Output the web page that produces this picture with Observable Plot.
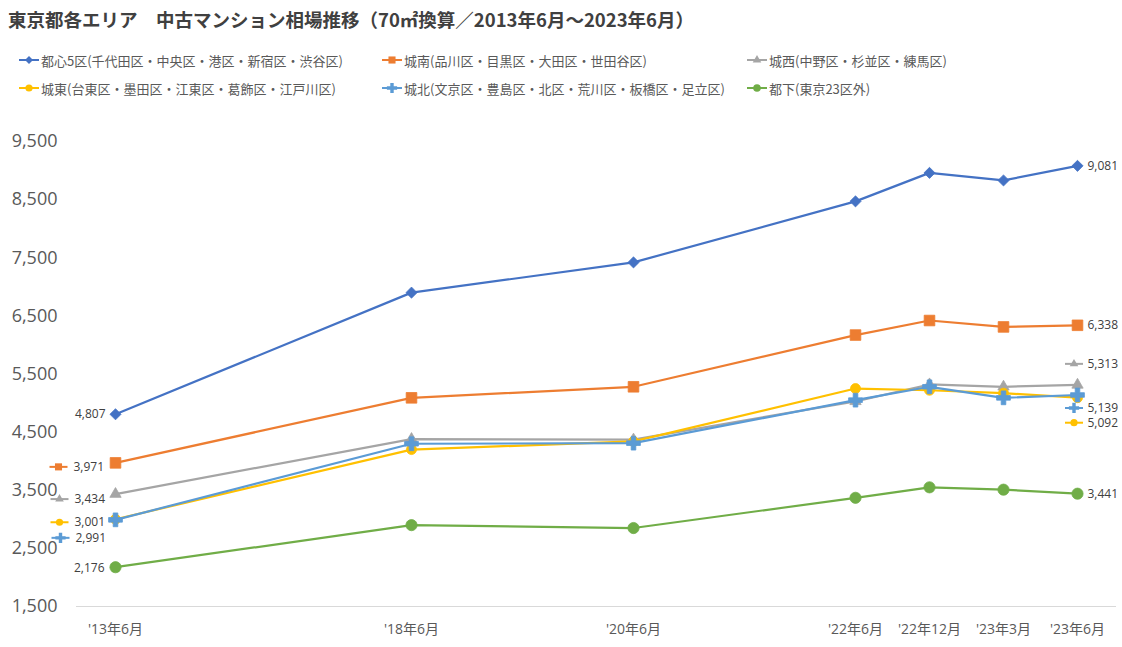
<!DOCTYPE html>
<html>
<head>
<meta charset="utf-8">
<script src="https://cdn.jsdelivr.net/npm/d3@7"></script>
<script src="https://cdn.jsdelivr.net/npm/@observablehq/plot@0.6"></script>
<style>
  body { margin: 0; background: #fff; font-family: "Noto Sans CJK JP", "Noto Sans", sans-serif; }
  #wrap { position: relative; width: 1122px; height: 647px; overflow: hidden; }
  #title { position: absolute; left: 8px; top: 6px; font-size: 18.5px; font-weight: bold; color: #404040; white-space: nowrap; letter-spacing: 0px; }
  .leg { position: absolute; display: flex; align-items: center; font-size: 13px; color: #595959; white-space: nowrap; }
  .leg svg { margin-right: 2px; }
  #chart { position: absolute; left: 0; top: 110px; }
</style>
</head>
<body>
<div id="wrap">
  <div id="title">東京都各エリア　中古マンション相場推移（70㎡換算／2013年6月～2023年6月）</div>
  <div id="legend"></div>
  <div id="chart"></div>
</div>
<script>
// ---- data ----
const categories = ["'13年6月", null, null, null, "'18年6月", null, null, "'20年6月", null, null, "'22年6月", "'22年12月", "'23年3月", "'23年6月"];
const periods = categories.filter(d => d);
const seriesNames = [
  "都心5区(千代田区・中央区・港区・新宿区・渋谷区)",
  "城南(品川区・目黒区・大田区・世田谷区)",
  "城西(中野区・杉並区・練馬区)",
  "城東(台東区・墨田区・江東区・葛飾区・江戸川区)",
  "城北(文京区・豊島区・北区・荒川区・板橋区・足立区)",
  "都下(東京23区外)"
];
const toshin5 = [4807, 6900, 7420, 8470, 8960, 8830, 9081];
const jonan   = [3971, 5090, 5280, 6170, 6420, 6310, 6338];
const josai   = [3434, 4380, 4370, 5030, 5320, 5280, 5313];
const joto    = [3001, 4200, 4340, 5250, 5220, 5170, 5092];
const johoku  = [2991, 4300, 4310, 5050, 5280, 5090, 5139];
const toka    = [2176, 2900, 2850, 3370, 3550, 3510, 3441];
const seriesValues = [toshin5, jonan, josai, joto, johoku, toka];
const yTicks = [1500, 2500, 3500, 4500, 5500, 6500, 7500, 8500, 9500];

// ---- styles ----
const colors  = ["#4472C4", "#ED7D31", "#A5A5A5", "#FFC000", "#5B9BD5", "#70AD47"];
const symbols = ["diamond2", "square", "triangle", "circle", "cross", "circle"];
const radii   = [5, 6, 4.2, 5, 5.8, 5.6];
const keyRadii = [3.6, 4, 3.2, 3.6, 4.3, 3.8];
// label layout: [first point, last point]
const labelLayout = [
  [{key: false, dx: -10, dy: 0}, {key: false, dx: 10, dy: 0}],
  [{key: true, keyDx: -57, dx: -42, dy: 4}, {key: false, dx: 10, dy: 0}],
  [{key: true, keyDx: -56, dx: -41, dy: 5}, {key: true, keyDx: -3.5, dx: 10, dy: -21}],
  [{key: true, keyDx: -56, dx: -41, dy: 3}, {key: true, keyDx: -3.5, dx: 10, dy: 25}],
  [{key: true, keyDx: -55, dx: -40, dy: 18}, {key: true, keyDx: -3.5, dx: 10, dy: 13}],
  [{key: false, dx: -11, dy: 1}, {key: false, dx: 10, dy: 0}]
];

const hline = {draw(ctx, size) { const r = Math.sqrt(size / Math.PI); ctx.moveTo(-r, 0); ctx.lineTo(r, 0); }};

const rows = seriesNames.map((name, si) => periods.map((p, pi) => ({series: name, si, x: categories.indexOf(p), value: seriesValues[si][pi]})));

const marks = [
  Plot.ruleY([yTicks[0]], {stroke: "#D9D9D9", strokeWidth: 1}),
  Plot.axisY({ticks: yTicks, tickSize: 0, tickPadding: 19, tickFormat: d3.format(","), fontSize: 18, fill: "#595959", label: null}),
  Plot.axisX({ticks: d3.range(categories.length).filter(i => categories[i]), tickFormat: i => categories[i], tickSize: 0, tickPadding: 18, fontSize: 14, fill: "#595959", label: null})
];

rows.forEach((data, si) => {
  marks.push(Plot.lineY(data, {x: "x", y: "value", stroke: colors[si], strokeWidth: 2.2}));
  marks.push(Plot.dot(data, {x: "x", y: "value", symbol: symbols[si], r: radii[si], fill: colors[si], stroke: colors[si], strokeWidth: 0.8}));
  [data[0], data[data.length - 1]].forEach((d, end) => {
    const L = labelLayout[si][end];
    const anchor = (end === 0 && !L.key) ? "end" : "start";
    marks.push(Plot.text([d], {x: "x", y: "value", text: r => d3.format(",")(r.value), dx: L.dx, dy: L.dy, textAnchor: anchor, fontSize: 12, fill: "#404040"}));
    if (L.key) {
      marks.push(Plot.dot([d], {x: "x", y: "value", symbol: hline, r: 9, stroke: colors[si], strokeWidth: 2, fill: "none", dx: L.keyDx, dy: L.dy}));
      marks.push(Plot.dot([d], {x: "x", y: "value", symbol: symbols[si], r: keyRadii[si], fill: colors[si], stroke: "none", dx: L.keyDx, dy: L.dy}));
    }
  });
});

const chart = Plot.plot({
  width: 1122,
  height: 537,
  marginTop: 31,
  marginBottom: 41,
  marginLeft: 76,
  marginRight: 6,
  style: {fontFamily: "'Open Sans', 'Noto Sans CJK JP', sans-serif", background: "#fff"},
  x: {type: "point", domain: d3.range(categories.length), padding: 0.5},
  y: {domain: [yTicks[0], yTicks[yTicks.length - 1]]},
  marks
});
document.getElementById("chart").appendChild(chart);

// ---- legend ----
const legCols = [19, 382, 747];
const legRows = [60, 88];
const legend = document.getElementById("legend");
seriesNames.forEach((name, i) => {
  const div = document.createElement("div");
  div.className = "leg";
  div.style.left = legCols[i % 3] + "px";
  div.style.top = (legRows[Math.floor(i / 3)] - 9) + "px";
  div.style.height = "18px";
  const sym = {diamond2: d3.symbolDiamond2, square: d3.symbolSquare, triangle: d3.symbolTriangle, circle: d3.symbolCircle, cross: d3.symbolCross}[symbols[i]];
  const path = d3.symbol(sym, Math.PI * keyRadii[i] * keyRadii[i])();
  div.innerHTML = `<svg width="20" height="14"><line x1="0" x2="20" y1="7" y2="7" stroke="${colors[i]}" stroke-width="2"/><path d="${path}" transform="translate(10,7)" fill="${colors[i]}"/></svg><span>${name}</span>`;
  legend.appendChild(div);
});
</script>
</body>
</html>
